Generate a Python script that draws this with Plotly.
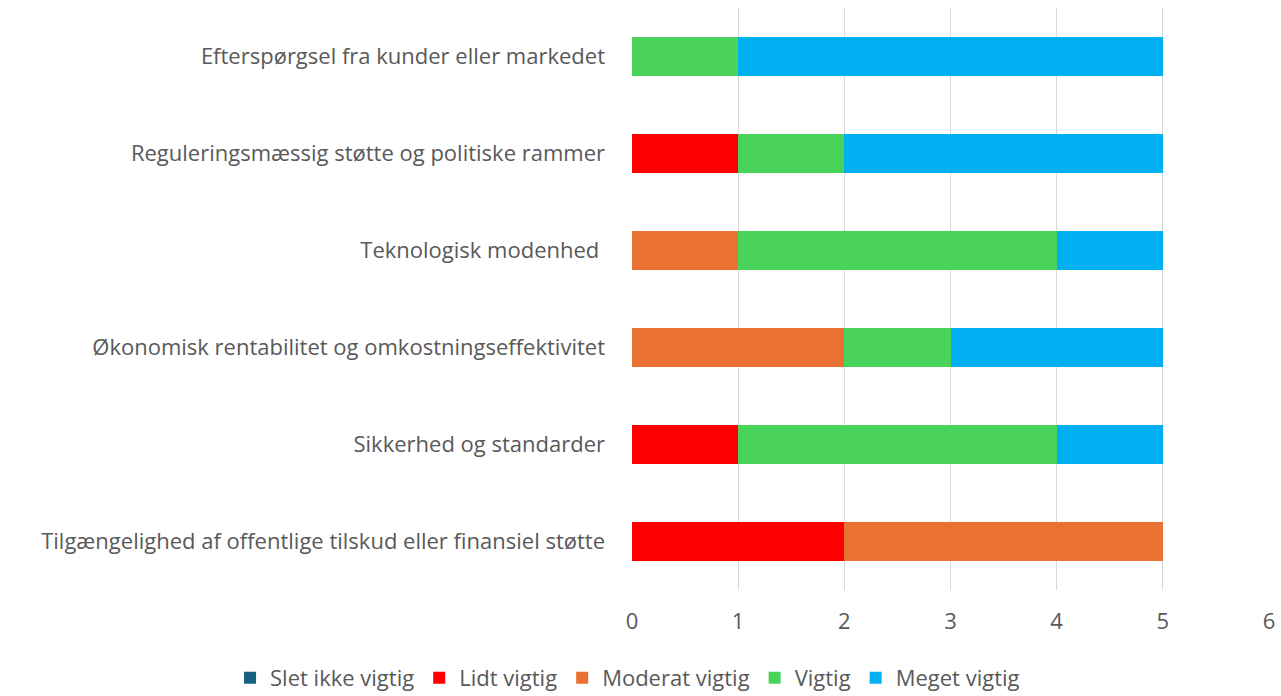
import plotly.graph_objects as go

categories = [
    "Efterspørgsel fra kunder eller markedet",
    "Reguleringsmæssig støtte og politiske rammer",
    "Teknologisk modenhed ",
    "Økonomisk rentabilitet og omkostningseffektivitet",
    "Sikkerhed og standarder",
    "Tilgængelighed af offentlige tilskud eller finansiel støtte",
]
series_names = ["Slet ikke vigtig", "Lidt vigtig", "Moderat vigtig", "Vigtig", "Meget vigtig"]
slet_ikke = [0, 0, 0, 0, 0, 0]
lidt = [0, 1, 0, 0, 1, 2]
moderat = [0, 0, 1, 2, 0, 3]
vigtig = [1, 1, 3, 1, 3, 0]
meget = [4, 3, 1, 2, 1, 0]
colors = ["#156082", "#FF0000", "#E97132", "#4AD35B", "#00B0F0"]
x_ticks = [0, 1, 2, 3, 4, 5, 6]

font_family = "Open Sans, Noto Sans, sans-serif"
grey = "#595959"
fs = 22

fig = go.Figure()
for name, vals, col in zip(series_names, [slet_ikke, lidt, moderat, vigtig, meget], colors):
    fig.add_trace(go.Bar(
        y=categories, x=vals, name=name, orientation="h",
        marker=dict(color=col, line=dict(width=0)),
        width=0.4,
    ))

fig.update_layout(
    barmode="stack",
    width=1281, height=696,
    margin=dict(l=632, r=12, t=8, b=106, autoexpand=False),
    plot_bgcolor="white", paper_bgcolor="white",
    font=dict(family=font_family, size=fs, color=grey),
    xaxis=dict(range=[0, 6], tickvals=x_ticks, showgrid=True, gridcolor="#D9D9D9",
               gridwidth=1, zeroline=False, showline=False, ticks="",
               automargin=False,
               ticklabelstandoff=16, tickfont=dict(size=fs, color=grey)),
    yaxis=dict(categoryorder="array", categoryarray=categories[::-1],
               showgrid=False, zeroline=False, showline=False, ticks="",
               automargin=False,
               ticklabelstandoff=26, tickfont=dict(size=fs, color=grey)),
    legend=dict(orientation="h", xref="paper", yref="paper",
                x=-0.631, xanchor="left", y=-0.115, yanchor="top",
                font=dict(size=fs, color=grey), traceorder="normal",
                itemwidth=30),
    bargap=0.6,
)

fig.write_html(
    "out.html",
    config={"displayModeBar": False},
    post_script="document.body.style.margin='0';document.body.style.overflow='hidden';",
)
